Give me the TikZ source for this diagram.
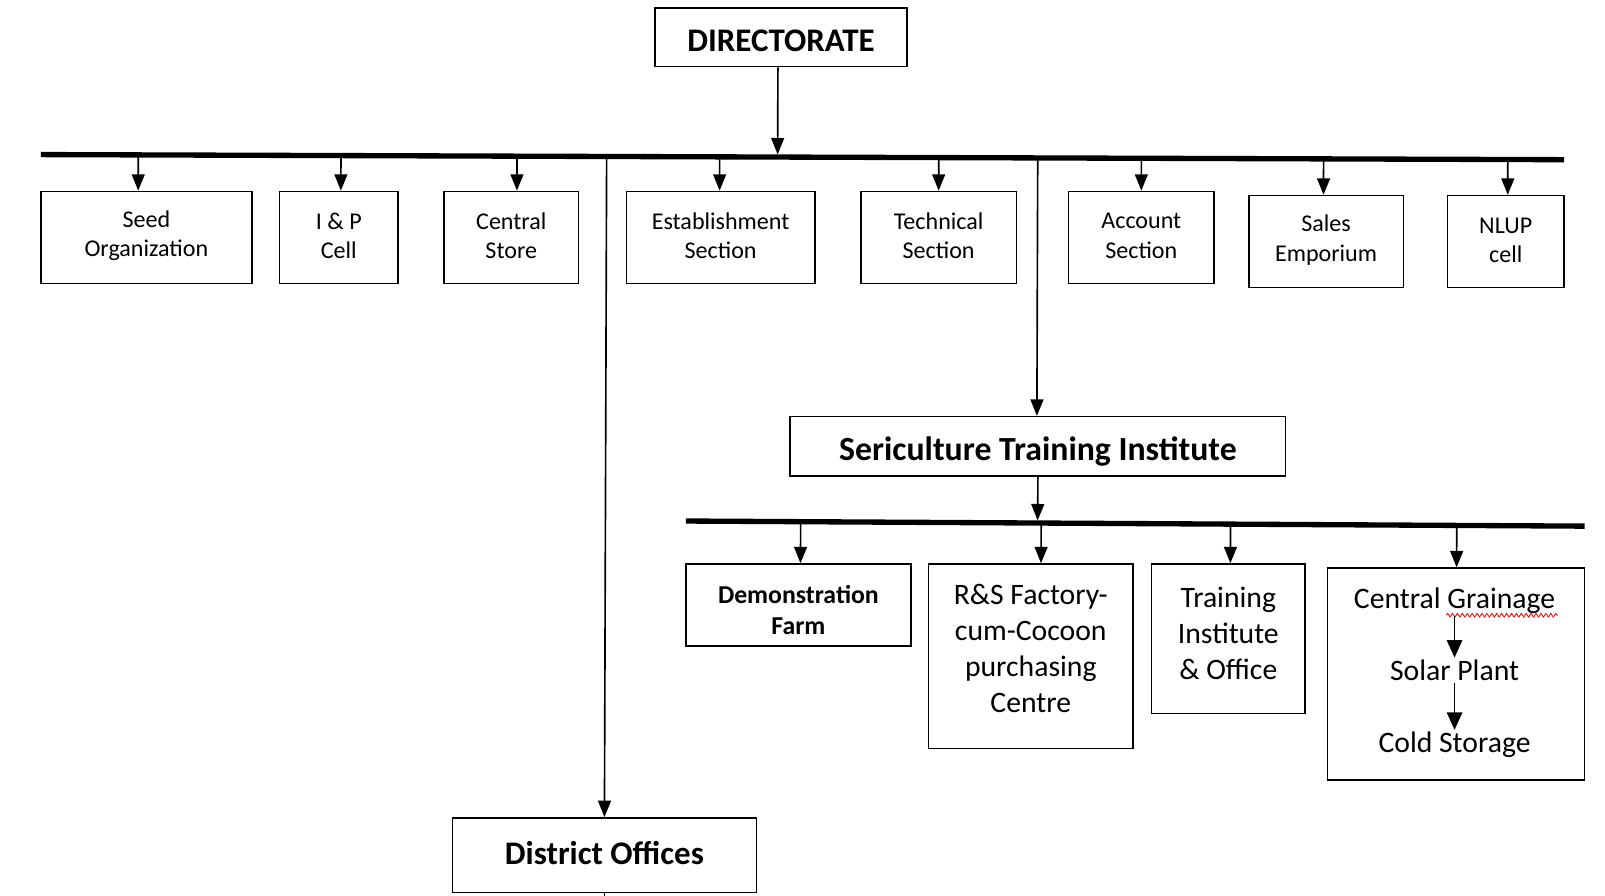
\documentclass[tikz,border=0pt]{standalone}
\usepackage{fontspec}
\setmainfont{Carlito}
\usetikzlibrary{arrows.meta,calc,decorations.pathmorphing}
\begin{document}
\begin{tikzpicture}[x=0.5pt,y=-0.5pt,
  box/.style={draw, line width=0.75pt, inner sep=0pt},
  txt/.style={align=center, inner sep=1pt},
  small/.style={txt, font=\fontsize{11.75}{14.3}\selectfont},
  mid/.style={txt, font=\bfseries\fontsize{12.6}{15.5}\selectfont},
  big/.style={txt, font=\fontsize{14.5}{17.5}\selectfont},
  head/.style={txt, font=\bfseries\fontsize{16.1}{19}\selectfont},
  arr/.style={line width=0.8pt, -{Triangle[length=8pt,width=6.3pt]}},
  inarr/.style={line width=0.8pt, -{Triangle[length=8.5pt,width=7.5pt]}},
  link/.style={line width=0.8pt},
  bus/.style={line width=2.6pt}]
\useasboundingbox (0,0) rectangle (1568,875);

% top level
\node[box, minimum width=123pt, minimum height=28.5pt] (dir) at (763,36.5) {};
\node[head] (dirT) at ($(dir)+(0,3.5)$) {DIRECTORATE};

% main distribution bar
\coordinate (busL) at (40,151);
\coordinate (busR) at (1528,156);
\draw[bus] (busL) -- (busR);
\draw[arr, shorten >=1.3pt] ([xshift=-1.5pt]dir.south) -- ($(busL)!([xshift=-1.5pt]dir.south)!(busR)$);

% sections under the directorate
\node[box, minimum width=103pt,  minimum height=45pt] (seed)  at (143,232) {};
\node[box, minimum width=58pt,   minimum height=45pt] (ip)    at (331,232) {};
\node[box, minimum width=65.5pt, minimum height=45pt] (store) at (499.5,232) {};
\node[box, minimum width=92pt,   minimum height=45pt] (estab) at (704,232) {};
\node[box, minimum width=76pt,   minimum height=45pt] (tech)  at (917,232) {};
\node[box, minimum width=71pt,   minimum height=45pt] (acct)  at (1115,232) {};
\node[box, minimum width=75.5pt, minimum height=45pt] (sales) at (1295.5,236) {};
\node[box, minimum width=57pt,   minimum height=45pt] (nlup)  at (1471,236) {};

\node[small] (seedT)  at ($(seed)+(0,-1.5)$)  {Seed\\Organization};
\node[small] (ipT)    at ($(ip)+(0,-1.5)$)    {I \& P\\Cell};
\node[small] (storeT) at ($(store)+(0,-1.5)$) {Central\\Store};
\node[small] (estabT) at ($(estab)+(0,-1.5)$) {Establishment\\Section};
\node[small] (techT)  at ($(tech)+(0,-1.5)$)  {Technical\\Section};
\node[small] (acctT)  at ($(acct)+(0,-1.5)$)  {Account\\Section};
\node[small] (salesT) at ($(sales)+(0,-1.5)$) {Sales\\Emporium};
\node[small] (nlupT)  at ($(nlup)+(0,-1.5)$)  {NLUP\\cell};

\foreach \n/\dx in {seed/-4pt, ip/1pt, store/2.75pt, estab/-0.5pt, tech/0pt, acct/0pt, sales/-1.25pt, nlup/1pt}
  \draw[arr] ($(busL)!([xshift=\dx]\n.north)!(busR)$) -- ([xshift=\dx]\n.north);

% district offices
\node[box, minimum width=148.5pt, minimum height=36.5pt] (dist) at (590.5,835.5) {};
\node[head] (distT) at ($(dist)+(0,-2)$) {District Offices};
\draw[arr] ($(busL)!(dist.north)!(busR)$) -- (dist.north);
\coordinate (pageEnd) at (590.5,875);
\draw[link] (dist.south) -- (dist.south |- pageEnd);

% training institute
\node[box, minimum width=242pt, minimum height=29pt] (sti) at (1014,436) {};
\node[head, font=\bfseries\fontsize{16.5}{19}\selectfont] (stiT) at ($(sti)+(0,5)$) {Sericulture Training Institute};
\draw[arr] ($(busL)!([xshift=-0.5pt]sti.north)!(busR)$) -- ([xshift=-0.5pt]sti.north);

\coordinate (bbL) at (670,509);
\coordinate (bbR) at (1548,514);
\draw[bus] (bbL) -- (bbR);
\draw[arr, shorten >=1.3pt] (sti.south) -- ($(bbL)!(sti.south)!(bbR)$);

% units under the training institute
\node[box, minimum width=110pt,   minimum height=40pt]   (demo) at (780,591) {};
\node[box, minimum width=100pt,   minimum height=90pt]   (rs)   at (1007,641) {};
\node[box, minimum width=75pt,    minimum height=73pt]   (tio)  at (1200,624) {};
\node[box, minimum width=125.5pt, minimum height=103.5pt] (cg)  at (1422.5,658.5) {};

\node[mid] (demoT) at ($(demo)+(0,5)$)   {Demonstration\\Farm};
\node[big] (rsT)   at ($(rs)+(0,-7.5)$)  {R\&S Factory-\\cum-Cocoon\\purchasing\\Centre};
\node[big] (tioT)  at ($(tio)+(0,-5)$)   {Training\\Institute\\\& Office};

\node[big] (cgt)   at ($(cg)+(-1.5,-71.5)$) {Central Grainage};
\node[big] (solar) at ($(cg)+(-1.5,-3.5)$)  {Solar Plant};
\node[big] (cold)  at ($(cg)+(-1.5,69.5)$)  {Cold Storage};
\draw[red, line width=0.4pt, decorate, decoration={zigzag, amplitude=0.9pt, segment length=2.4pt}]
  (1413,601) -- (1522,601);
\draw[inarr] (cgt.south) -- (solar.north);
\draw[inarr] (solar.south) -- (cold.north);

\foreach \n/\dx in {demo/1pt, rs/5pt, tio/1pt, cg/0.25pt}
  \draw[arr] ($(bbL)!([xshift=\dx]\n.north)!(bbR)$) -- ([xshift=\dx]\n.north);
\end{tikzpicture}
\end{document}
